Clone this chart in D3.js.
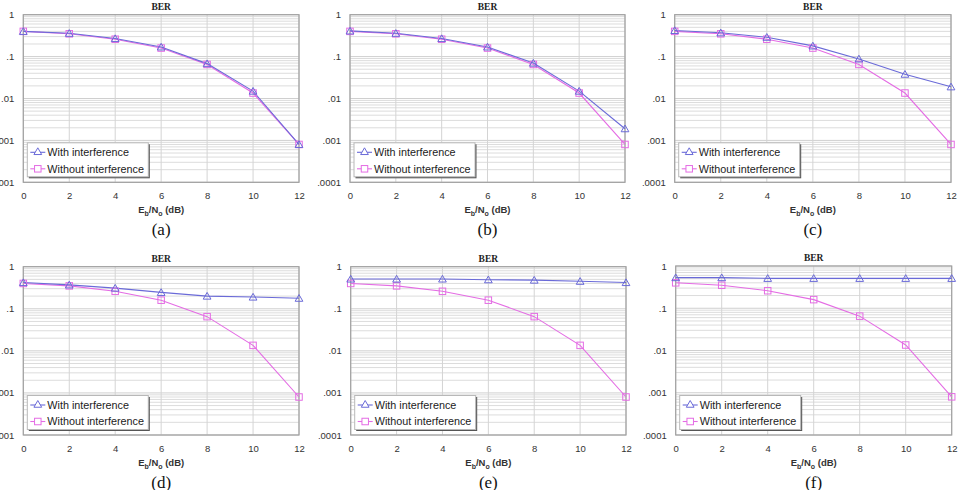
<!DOCTYPE html>
<html><head><meta charset="utf-8">
<script src="https://cdn.jsdelivr.net/npm/d3@7"></script>
<style>
html,body{margin:0;padding:0;background:#fff;}
svg{display:block;}
</style></head>
<body>
<svg id="chart" width="960" height="490"></svg>
<script>
// ---- data ----
const xValues = [0, 2, 4, 6, 8, 10, 12];
const xTickLabels = ["0", "2", "4", "6", "8", "10", "12"];
const yTickValues = [1, 0.1, 0.01, 0.001, 0.0001];
const yTickLabels = ["1", ".1", ".01", ".001", ".0001"];
const seriesNames = ["With interference", "Without interference"];
const panelLabels = ["(a)", "(b)", "(c)", "(d)", "(e)", "(f)"];
const chartTitle = "BER";

const withoutInterference = [0.40, 0.35, 0.26, 0.16, 0.065, 0.0135, 0.0008];
const withInterferenceA = [0.40, 0.36, 0.27, 0.17, 0.068, 0.015, 0.0008];
const withInterferenceB = [0.41, 0.36, 0.27, 0.17, 0.070, 0.015, 0.0019];
const withInterferenceC = [0.42, 0.37, 0.29, 0.18, 0.088, 0.038, 0.019];
const withInterferenceD = [0.42, 0.37, 0.31, 0.245, 0.20, 0.19, 0.178];
const withInterferenceE = [0.51, 0.51, 0.51, 0.49, 0.48, 0.45, 0.42];
const withInterferenceF = [0.53, 0.53, 0.51, 0.51, 0.51, 0.51, 0.51];
const withSeries = [withInterferenceA, withInterferenceB, withInterferenceC,
                    withInterferenceD, withInterferenceE, withInterferenceF];

// ---- layout ----
const panels = [
  {l: 23.3, r: 299, t: 14.7, b: 182.3},
  {l: 350,  r: 625, t: 14.7, b: 182.3},
  {l: 674.7,r: 951, t: 14.7, b: 182.3},
  {l: 23.3, r: 299, t: 266.7, b: 435},
  {l: 350.7,r: 626, t: 266.7, b: 435},
  {l: 675.7,r: 951.7, t: 266, b: 435}
];
const colWith = "#6a6ad8";
const colWithout = "#e46ce4";
const sans = "'Liberation Sans', Arial, sans-serif";
const serif = "'Liberation Serif', 'Times New Roman', serif";

const svg = d3.select("#chart");

panels.forEach((p, i) => {
  const g = svg.append("g");
  const x = d3.scaleLinear().domain([0, 12]).range([p.l, p.r]);
  const y = d3.scaleLog().domain([0.0001, 1]).range([p.b, p.t]);

  // minor horizontal grid
  const minor = [];
  for (let e = -4; e < 0; e++) for (let k = 2; k <= 9; k++) minor.push(k * Math.pow(10, e));
  g.selectAll(".hm").data(minor).join("line")
    .attr("x1", p.l).attr("x2", p.r)
    .attr("y1", d => y(d)).attr("y2", d => y(d))
    .attr("stroke", "#dcdcdc").attr("stroke-width", 1);
  g.selectAll(".hM").data(yTickValues).join("line")
    .attr("x1", p.l).attr("x2", p.r)
    .attr("y1", d => y(d)).attr("y2", d => y(d))
    .attr("stroke", "#cfcfcf").attr("stroke-width", 1);
  g.selectAll(".vg").data(xValues).join("line")
    .attr("x1", d => x(d)).attr("x2", d => x(d))
    .attr("y1", p.t).attr("y2", p.b)
    .attr("stroke", "#d4d4d4").attr("stroke-width", 1);

  // border
  g.append("rect").attr("x", p.l).attr("y", p.t)
    .attr("width", p.r - p.l).attr("height", p.b - p.t)
    .attr("fill", "none").attr("stroke", "#a0a0a0").attr("stroke-width", 1.2);

  // axes (labels only)
  const xAxis = d3.axisBottom(x).tickValues(xValues).tickSize(0)
    .tickFormat((d, j) => xTickLabels[j]).tickPadding(10);
  const ax = g.append("g").attr("transform", `translate(0,${p.b})`).call(xAxis);
  ax.select(".domain").remove();
  ax.selectAll("text").attr("font-family", sans).attr("font-size", 9.5).attr("fill", "#333");

  const yAxis = d3.axisLeft(y).tickValues(yTickValues).tickSize(0)
    .tickFormat((d, j) => yTickLabels[j]).tickPadding(9);
  const ay = g.append("g").attr("transform", `translate(${p.l},0)`).call(yAxis);
  ay.select(".domain").remove();
  ay.selectAll("text").attr("font-family", sans).attr("font-size", 9.5).attr("fill", "#333");

  // title
  const cx = (p.l + p.r) / 2;
  g.append("text").attr("x", cx).attr("y", p.t - 5)
    .attr("text-anchor", "middle").attr("font-family", serif)
    .attr("font-weight", "bold").attr("font-size", 9.5).attr("fill", "#222").text(chartTitle);

  // x axis title E_b/N_o (dB)
  const xt = g.append("text").attr("x", cx).attr("y", p.b + 31)
    .attr("text-anchor", "middle").attr("font-family", sans)
    .attr("font-size", 9.5).attr("font-weight", "bold").attr("fill", "#333");
  xt.append("tspan").text("E");
  xt.append("tspan").attr("font-size", 7).attr("dy", 3).text("b");
  xt.append("tspan").attr("dy", -3).text("/N");
  xt.append("tspan").attr("font-size", 7).attr("dy", 3).text("o");
  xt.append("tspan").attr("dy", -3).text(" (dB)");

  // caption
  g.append("text").attr("x", cx).attr("y", p.b + 53)
    .attr("text-anchor", "middle").attr("font-family", serif)
    .attr("font-size", 17).attr("fill", "#111").text(panelLabels[i]);

  // lines
  const line = d3.line().x((d, j) => x(xValues[j])).y(d => y(d));
  g.append("path").datum(withoutInterference).attr("d", line)
    .attr("fill", "none").attr("stroke", colWithout).attr("stroke-width", 1.1);
  g.append("path").datum(withSeries[i]).attr("d", line)
    .attr("fill", "none").attr("stroke", colWith).attr("stroke-width", 1.1);

  // markers
  const sq = 6.5;
  g.selectAll(".sq").data(withoutInterference).join("rect")
    .attr("x", (d, j) => x(xValues[j]) - sq / 2).attr("y", d => y(d) - sq / 2)
    .attr("width", sq).attr("height", sq)
    .attr("fill", "none").attr("stroke", colWithout).attr("stroke-width", 1);
  const tri = d3.symbol().type(d3.symbolTriangle).size(26);
  g.selectAll(".tr").data(withSeries[i]).join("path")
    .attr("d", tri)
    .attr("transform", (d, j) => `translate(${x(xValues[j])},${y(d) + 0.8})`)
    .attr("fill", "none").attr("stroke", colWith).attr("stroke-width", 1);

  // legend
  const lx = p.l + 4, ly = p.b - 39.5, lw = 121, lh = 34;
  const lg = g.append("g");
  lg.append("rect").attr("x", lx + 1.5).attr("y", ly + 1.5).attr("width", lw).attr("height", lh)
    .attr("fill", "#555");
  lg.append("rect").attr("x", lx).attr("y", ly).attr("width", lw).attr("height", lh)
    .attr("fill", "#fff").attr("stroke", "#b8b8b8").attr("stroke-width", 1);
  const rows = [
    {name: seriesNames[0], color: colWith, type: "tri", yy: ly + 9.5},
    {name: seriesNames[1], color: colWithout, type: "sq", yy: ly + 26}
  ];
  rows.forEach(rw => {
    lg.append("line").attr("x1", lx + 3).attr("x2", lx + 18)
      .attr("y1", rw.yy).attr("y2", rw.yy)
      .attr("stroke", rw.color).attr("stroke-width", 1.1);
    if (rw.type === "tri") {
      lg.append("path").attr("d", tri).attr("transform", `translate(${lx + 10.5},${rw.yy})`)
        .attr("fill", "#fff").attr("stroke", rw.color).attr("stroke-width", 1);
    } else {
      lg.append("rect").attr("x", lx + 10.5 - sq / 2).attr("y", rw.yy - sq / 2)
        .attr("width", sq).attr("height", sq)
        .attr("fill", "#fff").attr("stroke", rw.color).attr("stroke-width", 1);
    }
    lg.append("text").attr("x", lx + 20).attr("y", rw.yy + 3.8)
      .attr("font-family", sans).attr("font-size", 10.8).attr("fill", "#222").text(rw.name);
  });
});
</script>
</body></html>
